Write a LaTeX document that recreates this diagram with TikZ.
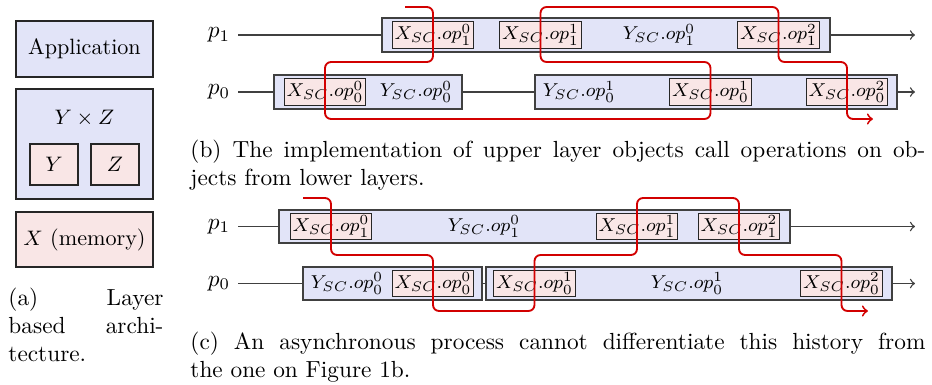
\documentclass[tikz,border=0pt]{standalone}
\definecolor{layerblue}{RGB}{226,228,248}
\definecolor{objpink}{RGB}{249,230,230}
\definecolor{tracered}{RGB}{210,0,0}
\tikzset{
  layer/.style = {draw = black!75, line width = 0.7pt, fill = layerblue, inner sep = 0pt, minimum height = 14.4pt},
  obj/.style = {draw = black!85, line width = 0.6pt, fill = objpink, inner sep = 1pt, minimum width = 34.3pt, minimum height = 9.9pt, font = \footnotesize},
  optext/.style = {font = \footnotesize},
  proc/.style = {draw = black!75, line width = 0.6pt},
  trace/.style = {draw = tracered, line width = 0.8pt, rounded corners = 2.6pt},
  caption/.style = {anchor = north west, inner sep = 0pt, align = justify}
}
\begin{document}
\begin{tikzpicture}[x = 0.429pt, y = -0.429pt]
  \useasboundingbox (0, 0) rectangle (932, 385);
  % (a) layer based architecture
  \begin{scope}[font = \fontsize{9.5}{11.5}\selectfont]
    \node [layer, draw = black!85, minimum width = 58.8pt, minimum height = 24pt] (app) at (84.5, 49) {Application};
    \node [layer, draw = black!85, minimum width = 58.8pt, minimum height = 47.2pt] (yz) at (84.5, 144) {};
    \node (yzname) at (84.5, 118) {$Y \times Z$};
    \node [obj, font = \fontsize{9.5}{11.5}\selectfont, minimum width = 20.6pt, minimum height = 17.6pt] (ybox) at (54, 164.5) {$Y$};
    \node [obj, font = \fontsize{9.5}{11.5}\selectfont, minimum width = 20.6pt, minimum height = 17.6pt] (zbox) at (115, 164.5) {$Z$};
    \node [obj, font = \fontsize{9.5}{11.5}\selectfont, minimum width = 58.8pt, minimum height = 23.6pt] (mem) at (84.5, 239.5) {$X$ (memory)};
  \end{scope}
  \node [caption, text width = 66.5pt] (capa) at (8, 288) {(a) Layer\linebreak based archi-\linebreak tecture.};

  % (b) history with lower layer calls
  \node (bp1) at (219, 35) {$p_1$};
  \node (bp0) at (219, 92) {$p_0$};
  \node [layer, minimum width = 192.2pt] (bl1) at (606, 35) {};
  \node [layer, minimum width = 80.7pt] (bl0a) at (368, 92) {};
  \node [layer, minimum width = 155.3pt] (bl0b) at (716, 92) {};
  \coordinate (be1) at (915, 35);
  \coordinate (be0) at (915, 92);
  \draw [proc] (bp1) -- (bl1);
  \draw [proc, ->] (bl1) -- (be1);
  \draw [proc] (bp0) -- (bl0a);
  \draw [proc] (bl0a) -- (bl0b);
  \draw [proc, ->] (bl0b) -- (be0);
  \node [obj] (bx10) at (433, 35) {$X_{SC}.op_1^0$};
  \node [obj] (bx11) at (540.5, 35) {$X_{SC}.op_1^1$};
  \node [optext] (by10) at (659, 35) {$Y_{SC}.op_1^0$};
  \node [obj] (bx12) at (778.5, 35) {$X_{SC}.op_1^2$};
  \node [obj] (bx00) at (325, 92) {$X_{SC}.op_0^0$};
  \node [optext] (by00) at (416, 92) {$Y_{SC}.op_0^0$};
  \node [optext] (by01) at (579, 92) {$Y_{SC}.op_0^1$};
  \node [obj] (bx01) at (710.5, 92) {$X_{SC}.op_0^1$};
  \node [obj] (bx02) at (847, 92) {$X_{SC}.op_0^2$};
  \coordinate (bs) at (405, 7);
  \coordinate (bmid) at (0, 62);
  \coordinate (bbot) at (0, 119);
  \coordinate (bt) at (873, 119);
  \draw [trace, ->] (bs) -- (bx10 |- bs) -- (bx10 |- bmid) -- (bx00 |- bmid) -- (bx00 |- bbot)
    -- (bx01 |- bbot) -- (bx01 |- bmid) -- (bx11 |- bmid) -- (bx11 |- bs) -- (bx12 |- bs)
    -- (bx12 |- bmid) -- (bx02 |- bmid) -- (bx02 |- bbot) -- (bt);
  \node [caption, text width = 315.3pt] (capb) at (190, 140) {(b) The implementation of upper layer objects call operations on ob-\linebreak jects from lower layers.};

  % (c) asynchronous history
  \node (cp1) at (219, 226.5) {$p_1$};
  \node (cp0) at (219, 283.5) {$p_0$};
  \node [layer, minimum width = 219.2pt] (cl1) at (534.5, 226.5) {};
  \node [layer, minimum width = 76.8pt] (cl0a) at (392.5, 283.5) {};
  \node [layer, minimum width = 174.2pt] (cl0b) at (689, 283.5) {};
  \coordinate (ce1) at (915, 226.5);
  \coordinate (ce0) at (915, 283.5);
  \draw [proc] (cp1) -- (cl1);
  \draw [proc, ->] (cl1) -- (ce1);
  \draw [proc] (cp0) -- (cl0a);
  \draw [proc] (cl0a) -- (cl0b);
  \draw [proc, ->] (cl0b) -- (ce0);
  \node [obj] (cx10) at (331, 226.5) {$X_{SC}.op_1^0$};
  \node [optext] (cy10) at (484, 226.5) {$Y_{SC}.op_1^0$};
  \node [obj] (cx11) at (637, 226.5) {$X_{SC}.op_1^1$};
  \node [obj] (cx12) at (739, 226.5) {$X_{SC}.op_1^2$};
  \node [optext] (cy00) at (347, 283.5) {$Y_{SC}.op_0^0$};
  \node [obj] (cx00) at (433, 283.5) {$X_{SC}.op_0^0$};
  \node [obj] (cx01) at (534.5, 283.5) {$X_{SC}.op_0^1$};
  \node [optext] (cy01) at (687, 283.5) {$Y_{SC}.op_0^1$};
  \node [obj] (cx02) at (841.5, 283.5) {$X_{SC}.op_0^2$};
  \coordinate (cs) at (303, 198);
  \coordinate (cmid) at (0, 255);
  \coordinate (cbot) at (0, 311);
  \coordinate (ct) at (868, 311);
  \draw [trace, ->] (cs) -- (cx10 |- cs) -- (cx10 |- cmid) -- (cx00 |- cmid) -- (cx00 |- cbot)
    -- (cx01 |- cbot) -- (cx01 |- cmid) -- (cx11 |- cmid) -- (cx11 |- cs) -- (cx12 |- cs)
    -- (cx12 |- cmid) -- (cx02 |- cmid) -- (cx02 |- cbot) -- (ct);
  \node [caption, text width = 315.3pt] (capc) at (190, 332) {(c) An asynchronous process cannot differentiate this history from\linebreak the one on Figure 1b.};
\end{tikzpicture}
\end{document}
